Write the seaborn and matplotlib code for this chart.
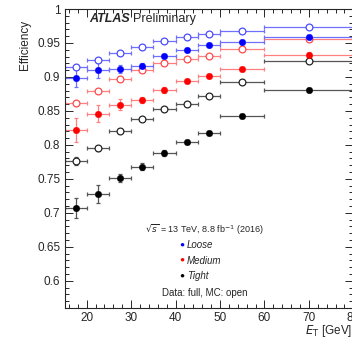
import matplotlib
matplotlib.use("Agg")
import matplotlib.pyplot as plt
import seaborn as sns
import numpy as np
import pandas as pd
from matplotlib.ticker import MultipleLocator, AutoMinorLocator

bin_centers = [17.5, 22.5, 27.5, 32.5, 37.5, 42.5, 47.5, 55, 70]
bin_halfwidths = [2.5, 2.5, 2.5, 2.5, 2.5, 2.5, 2.5, 5, 10]

loose_data = [0.898, 0.910, 0.912, 0.916, 0.931, 0.940, 0.947, 0.951, 0.959]
loose_data_err = [0.013, 0.012, 0.006, 0.004, 0.003, 0.003, 0.003, 0.003, 0.003]
loose_mc = [0.914, 0.925, 0.935, 0.944, 0.953, 0.959, 0.963, 0.967, 0.9735]
loose_mc_err = [0.003, 0.003, 0.002, 0.002, 0.002, 0.002, 0.002, 0.002, 0.002]

medium_data = [0.822, 0.846, 0.859, 0.866, 0.881, 0.894, 0.901, 0.912, 0.933]
medium_data_err = [0.017, 0.013, 0.008, 0.005, 0.004, 0.003, 0.003, 0.003, 0.003]
medium_mc = [0.861, 0.880, 0.897, 0.910, 0.921, 0.926, 0.931, 0.941, 0.956]
medium_mc_err = [0.004, 0.003, 0.003, 0.002, 0.002, 0.002, 0.002, 0.002, 0.002]

tight_data = [0.707, 0.728, 0.751, 0.768, 0.788, 0.804, 0.818, 0.842, 0.881]
tight_data_err = [0.015, 0.013, 0.006, 0.005, 0.004, 0.003, 0.003, 0.003, 0.003]
tight_mc = [0.776, 0.795, 0.821, 0.838, 0.8525, 0.860, 0.872, 0.893, 0.923]
tight_mc_err = [0.006, 0.004, 0.003, 0.003, 0.002, 0.002, 0.002, 0.002, 0.002]

x_ticks = [20, 30, 40, 50, 60, 70, 80]
y_ticks = [0.6, 0.65, 0.7, 0.75, 0.8, 0.85, 0.9, 0.95, 1.0]
y_tick_labels = ["0.6", "0.65", "0.7", "0.75", "0.8", "0.85", "0.9", "0.95", "1"]
legend_labels = ["Loose", "Medium", "Tight"]

sns.set_theme(style="ticks")
plt.rcParams['font.family'] = ['Liberation Sans', 'DejaVu Sans']

fig = plt.figure(figsize=(3.52, 3.45), dpi=100)
ax = fig.add_axes([64.5/352, 1-308/345, (353.3-64.5)/352, (308-9)/345])

rows = []
series = {
    "Tight": (tight_data, tight_data_err, tight_mc, tight_mc_err),
    "Medium": (medium_data, medium_data_err, medium_mc, medium_mc_err),
    "Loose": (loose_data, loose_data_err, loose_mc, loose_mc_err),
}
for name, (d, de, m, me) in series.items():
    for i, x in enumerate(bin_centers):
        rows.append(dict(et=x, xerr=bin_halfwidths[i], eff=d[i], err=de[i], wp=name, kind="data"))
        rows.append(dict(et=x, xerr=bin_halfwidths[i], eff=m[i], err=me[i], wp=name, kind="mc"))
df = pd.DataFrame(rows)

marker_col = {"Loose": "#0000ff", "Medium": "#ff0000", "Tight": "#000000"}
line_col = {"Loose": "#7070ff", "Medium": "#ff8080", "Tight": "#555555"}
open_col = {"Loose": "#4a4aff", "Medium": "#ff4a4a", "Tight": "#222222"}

for kind in ["mc", "data"]:
    for name in ["Tight", "Medium", "Loose"]:
        sub = df[(df.wp == name) & (df.kind == kind)]
        ax.errorbar(sub.et, sub.eff, xerr=sub.xerr, yerr=sub.err, fmt="none",
                    ecolor=line_col[name], elinewidth=0.9, capsize=1.6, capthick=0.9, zorder=2)
        if kind == "data":
            sns.scatterplot(data=sub, x="et", y="eff", ax=ax, color=marker_col[name],
                            s=22, marker="o", edgecolor=marker_col[name], linewidth=0.3,
                            legend=False, zorder=4)
        else:
            sns.scatterplot(data=sub, x="et", y="eff", ax=ax, facecolor="white",
                            s=24, marker="o", edgecolor=open_col[name], linewidth=0.9,
                            legend=False, zorder=3)

ax.set_xlim(15, 80)
ax.set_ylim(0.56, 1.0)
ax.set_xticks(x_ticks)
ax.set_xticklabels([str(t) for t in x_ticks])
ax.set_yticks(y_ticks)
ax.set_yticklabels(y_tick_labels)
ax.xaxis.set_minor_locator(AutoMinorLocator(5))
ax.yaxis.set_minor_locator(AutoMinorLocator(5))
ax.tick_params(which="both", direction="in", top=True, right=True, labelsize=8.5, pad=3, width=0.7)
ax.tick_params(which="major", length=5.5)
ax.tick_params(which="minor", length=2.8)
for sp in ax.spines.values():
    sp.set_linewidth(0.8)
    sp.set_visible(True)
ax.set_xlabel("")
ax.set_ylabel("")

fig.text(25/352, 1-20/345, "Efficiency", rotation=90, ha="center", va="top", fontsize=8.5)
fig.text(352/352, 1-331/345, r"$E_{\mathrm{T}}$ [GeV]", ha="right", va="center", fontsize=8.5)

fig.text(89/352, 1-19/345, "ATLAS", fontsize=9, fontweight="bold", style="italic", va="center")
fig.text(133/352, 1-19/345, "Preliminary", fontsize=9, va="center")

fig.text(205/352, 1-230/345, r"$\sqrt{s}$ = 13 TeV, 8.8 fb$^{-1}$ (2016)", fontsize=6.5,
         ha="center", va="center")
for j, name in enumerate(legend_labels):
    yy = 1 - (245 + 15.5*j)/345
    fig.text(181.5/352, yy, "\u25CF", color=marker_col[name], fontsize=6, ha="center", va="center")
    fig.text(187/352, yy, name, fontsize=7, style="italic", ha="left", va="center")
fig.text(205/352, 1-292.5/345, "Data: full, MC: open", fontsize=7, ha="center", va="center")

fig.savefig("out.png", dpi=100)
